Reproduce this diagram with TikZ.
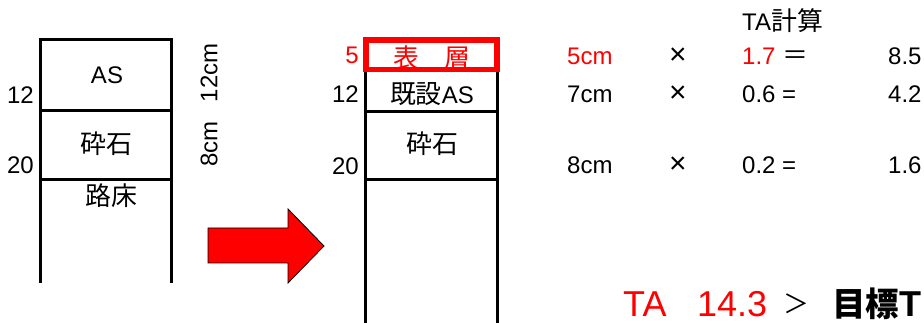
\documentclass[tikz,border=0pt]{standalone}
\usepackage{fontspec}
\setmainfont{Liberation Sans}
\newfontfamily\jp[Scale=1.08]{Noto Sans CJK JP}
\definecolor{rossopuro}{RGB}{255,0,0}
\definecolor{nero}{RGB}{0,0,0}
\tikzstyle{profilo}=[
    strato/.style={draw=nero,line width=3pt},
    bordo/.style={draw=rossopuro,line width=5.5pt},
    freccia/.style={fill=rossopuro,draw=nero,line width=0.8pt,line join=miter},
    testo/.style={inner sep=0pt,font={\fontsize{24}{28}\selectfont}},
    quota/.style={testo,anchor=east},
    per/.style={inner sep=0pt,font={\fontsize{30}{32}\selectfont}},
    grande/.style={inner sep=0pt,font={\fontsize{36}{40}\selectfont}},
    evidenza/.style={text=rossopuro},
]

\begin{document}
\begin{tikzpicture}[x=1pt,y=-1pt,profilo]
    \useasboundingbox (0,0) rectangle (924,323);
    \clip (0,0) rectangle (924,323);

    % sezione esistente
    \draw[strato] (40.5,283) -- (40.5,40) -- (171.5,40) -- (171.5,283);
    \draw[strato] (40.5,111) -- (171.5,111);
    \draw[strato] (40.5,179.5) -- (171.5,179.5);
    \node[quota] (a12) at (34,95) {12};
    \node[quota] (a20) at (34,165) {20};
    \node[testo] (aAS) at (107,75) {AS};
    \node[testo] (aSaiseki) at (106,144) {\jp 砕石};
    \node[testo] (aRosho) at (111,196) {\jp 路床};
    \node[testo,rotate=90] (a12cm) at (209,73) {12cm};
    \node[testo,rotate=90] (a8cm) at (209,144) {8cm};

    \draw[freccia] (208,228) -- (288,228) -- (288,209) -- (324,246)
        -- (288,283) -- (288,263) -- (208,263) -- cycle;

    % sezione con nuovo strato
    \draw[strato] (365,70) -- (365,323);
    \draw[strato] (497,70) -- (497,323);
    \draw[strato] (365,111.5) -- (497,111.5);
    \draw[strato] (365,180) -- (497,180);
    \draw[bordo] (366,40) rectangle (497,69.5);
    \node[quota,evidenza] (b5) at (359,55) {5};
    \node[quota] (b12) at (359,94) {12};
    \node[quota] (b20) at (359,166) {20};
    \node[testo,evidenza] (bHyoso) at (432,58) {\jp 表　層};
    \node[testo] (bKisetsu) at (432,94) {{\jp 既設}AS};
    \node[testo] (bSaiseki) at (432,144) {\jp 砕石};

    % calcolo TA
    \node[testo,anchor=west] (titolo) at (742,21) {TA{\jp 計算}};
    \node[testo,anchor=west,evidenza] (sp5) at (567,56) {5cm};
    \node[per] (per5) at (678,56) {×};
    \node[testo,anchor=west,evidenza] (c5) at (742,56) {1.7};
    \node[testo] (ug5) at (795,58) {\jp ＝};
    \node[testo,anchor=west] (r5) at (888,56) {8.5};
    \foreach \y/\sp/\c/\r in {94/7cm/0.6/4.2, 165/8cm/0.2/1.6}{
        \node[testo,anchor=west] (sp\y) at (567,\y) {\sp};
        \node[per] (per\y) at (678,\y) {×};
        \node[testo,anchor=west] (c\y) at (742,\y) {\c\ =};
        \node[testo,anchor=west] (r\y) at (888,\y) {\r};
    }

    \node[grande,anchor=west,evidenza] (ta) at (623,304) {TA};
    \node[grande,anchor=west,evidenza] (tot) at (697,304) {14.3};
    \node[testo] (mag) at (796,304) {\jp ＞};
    \node[grande,anchor=west] (obiettivo) at (832,304)
        {{\fontsize{31}{36}\selectfont\jp\bfseries 目標}\bfseries T};
\end{tikzpicture}
\end{document}
